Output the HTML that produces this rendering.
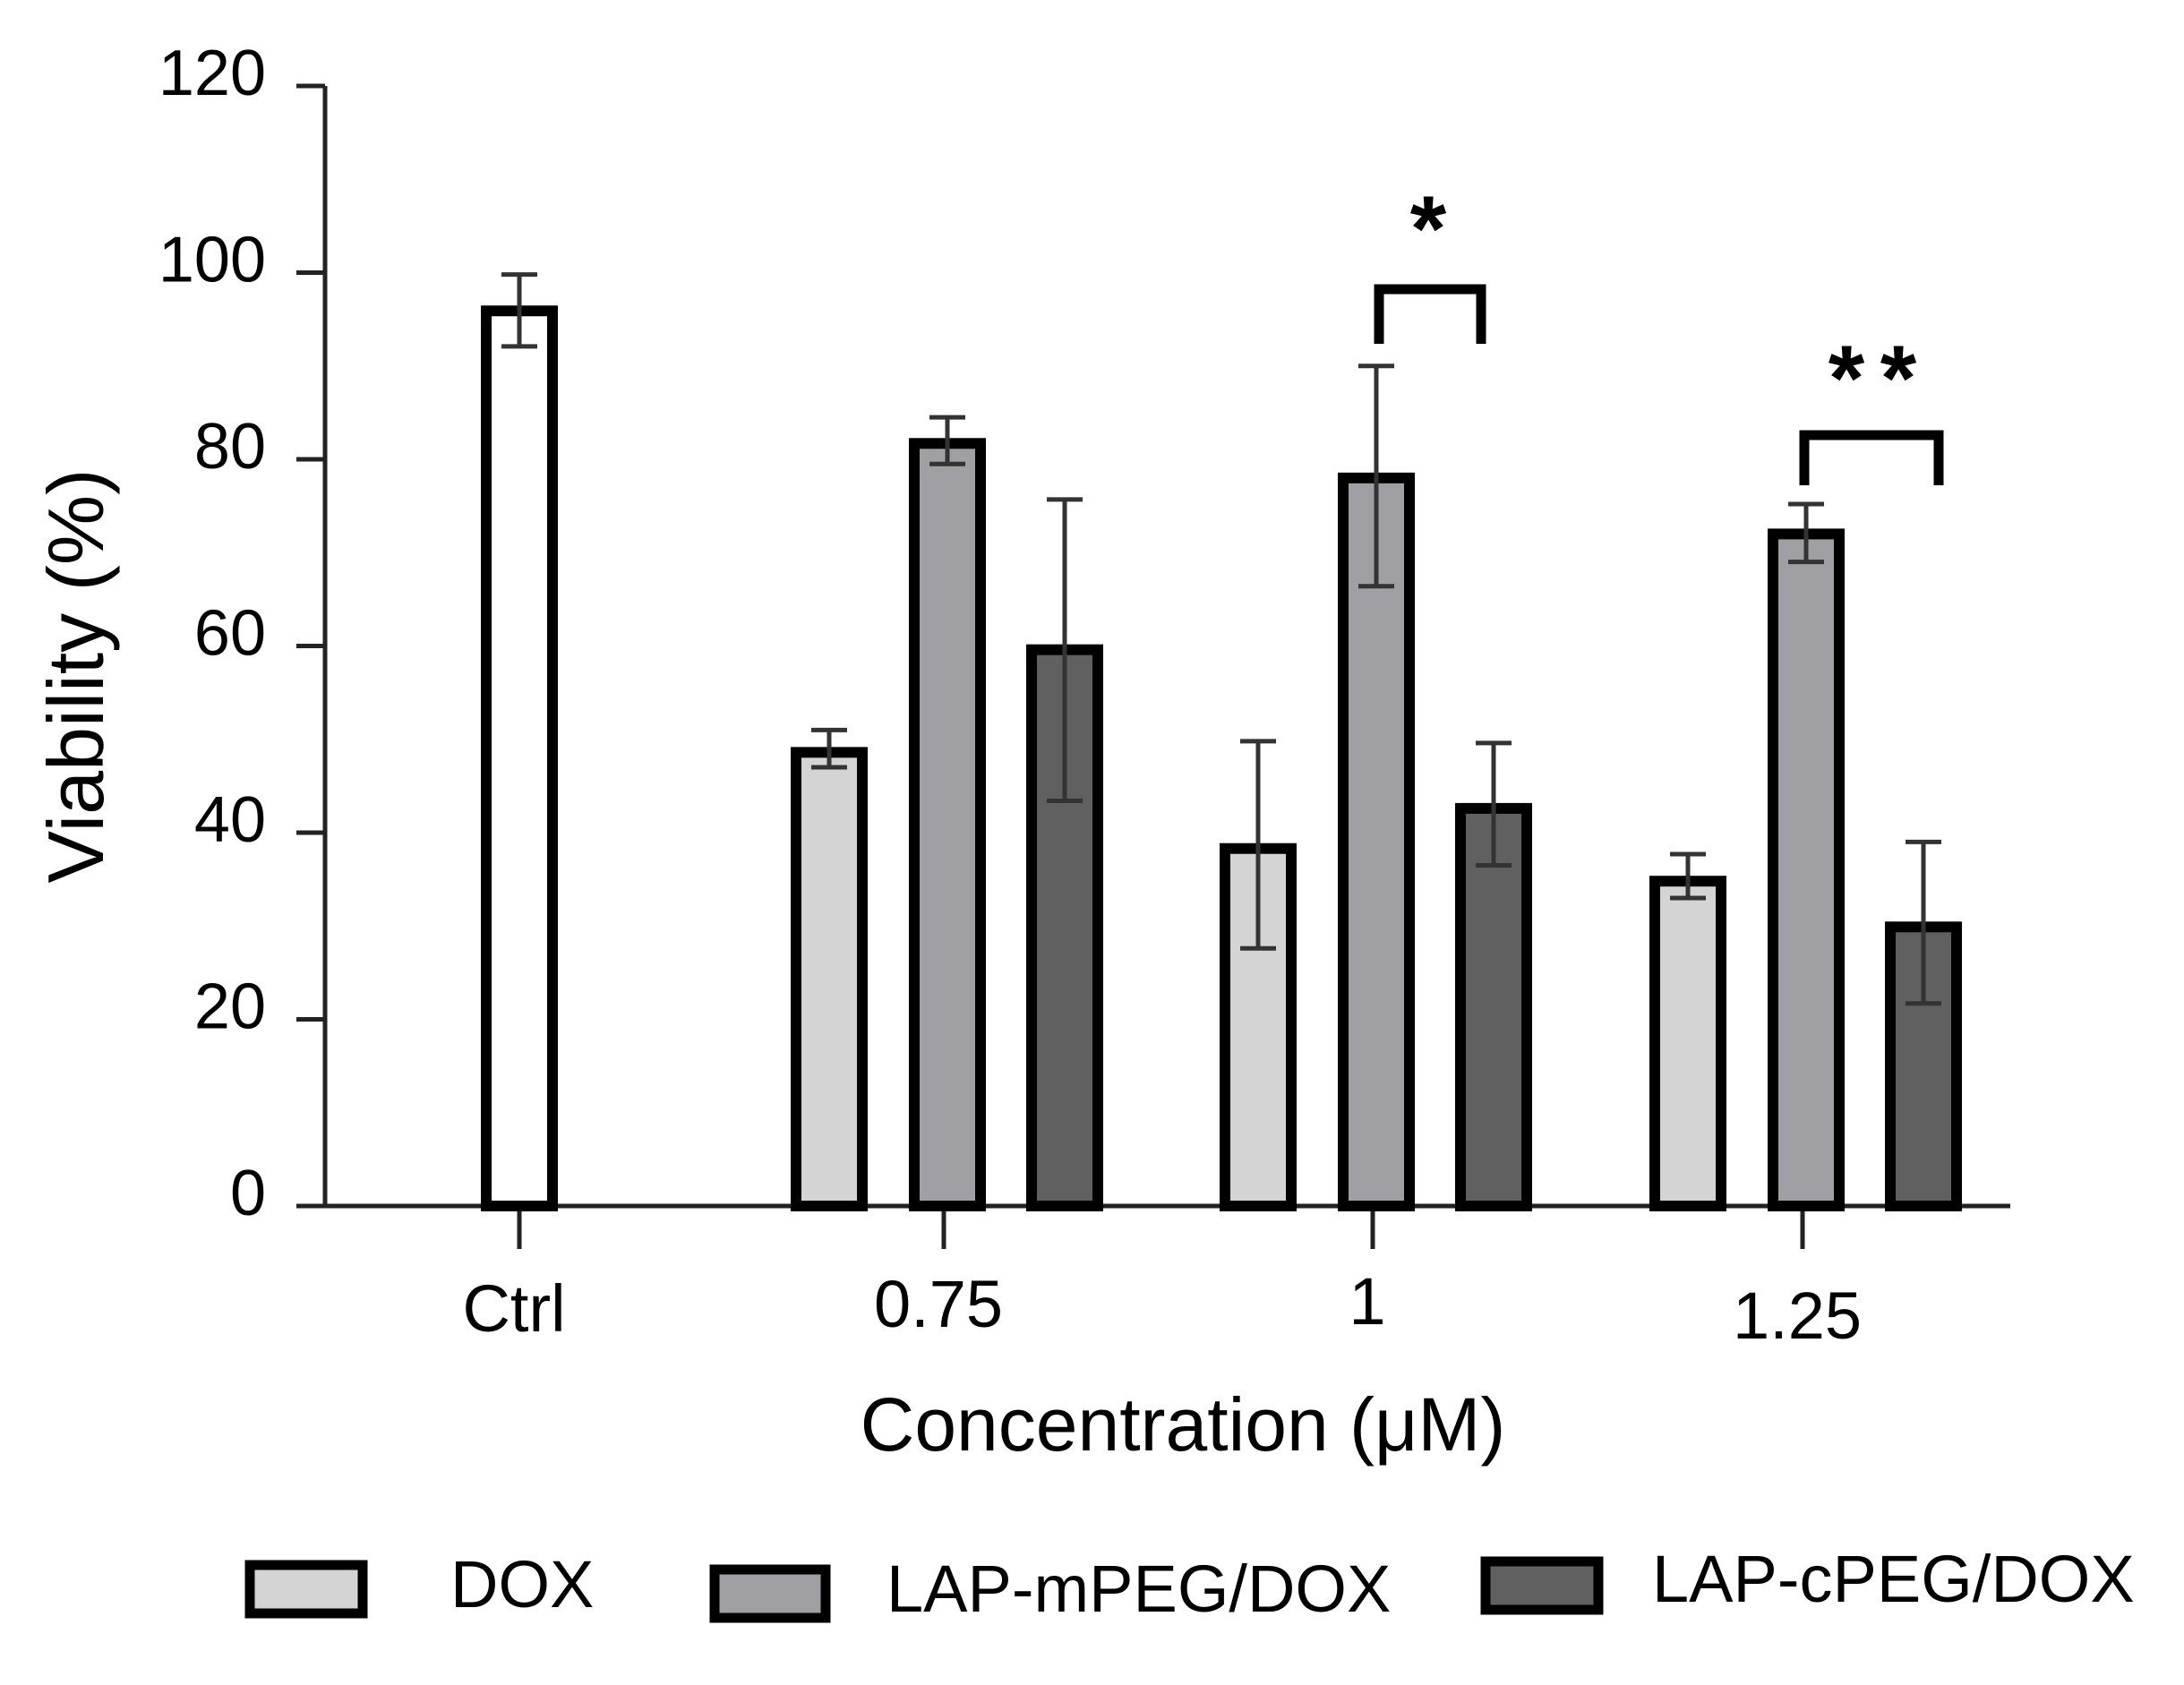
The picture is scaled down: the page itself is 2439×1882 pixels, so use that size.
<!DOCTYPE html>
<html><head><meta charset="utf-8"><style>
html,body{margin:0;padding:0;background:#fff}
svg{display:block;font-family:"Liberation Sans",Arial,sans-serif}
</style></head><body>
<svg id="chart" width="2439" height="1882" viewBox="0 0 2439 1882" xmlns="http://www.w3.org/2000/svg">
<g id="axes"></g><g id="bars"></g><g id="annot"></g>
<text x="0" y="0" transform="translate(115,755) rotate(-90)" text-anchor="middle" font-size="88">Viability (%)</text>
<text x="1321" y="1620" text-anchor="middle" font-size="84">Concentration (μM)</text>
<g>
<rect x="279" y="1748" width="126" height="54" fill="#d4d4d4" stroke="#000" stroke-width="11"/>
<text x="503" y="1795" font-size="74">DOX</text>
<rect x="798" y="1753" width="124" height="54" fill="#a0a0a4" stroke="#000" stroke-width="11"/>
<text x="990" y="1800" font-size="74">LAP-mPEG/DOX</text>
<rect x="1659" y="1744" width="126" height="54" fill="#606060" stroke="#000" stroke-width="11"/>
<text x="1845" y="1789" font-size="74">LAP-cPEG/DOX</text>
</g>
</svg>
<script>
const categories = ["Ctrl","0.75","1","1.25"];
const yTicks = [0,20,40,60,80,100,120];
const ctrlValue = [95.9];
const ctrlErrLow = [92.1];
const ctrlErrHigh = [99.8];
const doxValues = [48.6,38.3,34.8];
const doxErrLow = [47,27.6,33];
const doxErrHigh = [51,49.8,37.7];
const mpegValues = [81.7,78,72];
const mpegErrLow = [79.5,66.4,69];
const mpegErrHigh = [84.5,90,75.2];
const cpegValues = [59.6,42.6,29.9];
const cpegErrLow = [43.4,36.5,21.7];
const cpegErrHigh = [75.7,49.6,39];

const NS="http://www.w3.org/2000/svg";
const y0=1347, y120=96;
function yScale(v){return y0-(y0-y120)*v/120;}
const catX=[580,1054,1533,2013];
const offs=[-128,4,135];
function xScale(ci,si){return si===undefined?catX[ci]:catX[ci]+offs[si];}
function mk(tag,attrs,parent){const e=document.createElementNS(NS,tag);for(const k in attrs)e.setAttribute(k,attrs[k]);parent.appendChild(e);return e;}
const axes=document.getElementById('axes'),bars=document.getElementById('bars'),annot=document.getElementById('annot');

let yl=mk('line',{x1:363,y1:yScale(120),x2:363,y2:y0,stroke:'#222','stroke-width':5},axes);


let xl=mk('line',{x1:331,y1:y0,x2:2245,y2:y0,stroke:'#222','stroke-width':5},axes);


yTicks.forEach(t=>{
  const y=yScale(t);
  let l=mk('line',{x1:331,y1:y,x2:363,y2:y,stroke:'#222','stroke-width':5},axes);
  
  
  let tx=mk('text',{x:297,y:y+10,'text-anchor':'end','font-size':72},axes);
  
  
  tx.textContent=t;
});
const labY=[1487,1482,1479,1495];
categories.forEach((c,i)=>{
  const x=xScale(i);
  let l=mk('line',{x1:x,y1:y0,x2:x,y2:y0+48,stroke:'#222','stroke-width':5},axes);
  
  
  let tx=mk('text',{x:x-6,y:labY[i],'text-anchor':'middle','font-size':74},axes);
  
  
  tx.textContent=c;
});
function bar(x,v,lo,hi,fill,name){
  const yt=yScale(v);
  let r=mk('rect',{x:x-37,y:yt,width:74,height:y0-yt,fill:fill,stroke:'#000','stroke-width':12},bars);
  
  
  const g=mk('g',{stroke:'#333','stroke-width':5},bars);
  
  
  mk('line',{x1:x,y1:yScale(hi),x2:x,y2:yScale(lo)},g);
  mk('line',{x1:x-20,y1:yScale(hi),x2:x+20,y2:yScale(hi)},g);
  mk('line',{x1:x-20,y1:yScale(lo),x2:x+20,y2:yScale(lo)},g);
}
bar(xScale(0),ctrlValue[0],ctrlErrLow[0],ctrlErrHigh[0],'#fff','bar-ctrl');
for(let i=0;i<3;i++){
  bar(xScale(i+1,0),doxValues[i],doxErrLow[i],doxErrHigh[i],'#d4d4d4','bar-dox-'+categories[i+1]);
  bar(xScale(i+1,1),mpegValues[i],mpegErrLow[i],mpegErrHigh[i],'#a0a0a4','bar-lap-mpeg-'+categories[i+1]);
  bar(xScale(i+1,2),cpegValues[i],cpegErrLow[i],cpegErrHigh[i],'#606060','bar-lap-cpeg-'+categories[i+1]);
}
function bracket(x1,x2,yt,yb,stars,sy,name){
  let p=mk('path',{d:`M${x1},${yb} V${yt} H${x2} V${yb}`,fill:'none',stroke:'#000','stroke-width':11},annot);
  
  
  stars.forEach(sx=>{
    let t=mk('text',{x:sx,y:sy+40,'text-anchor':'middle','font-size':104,'font-weight':'bold'},annot);
    
    
    t.textContent='*';
  });
}
bracket(1540,1654,323,384,[1595],251,'significance-1');
bracket(2015,2165,486,542,[2062,2120],418,'significance-1-25');
</script>
</body></html>
